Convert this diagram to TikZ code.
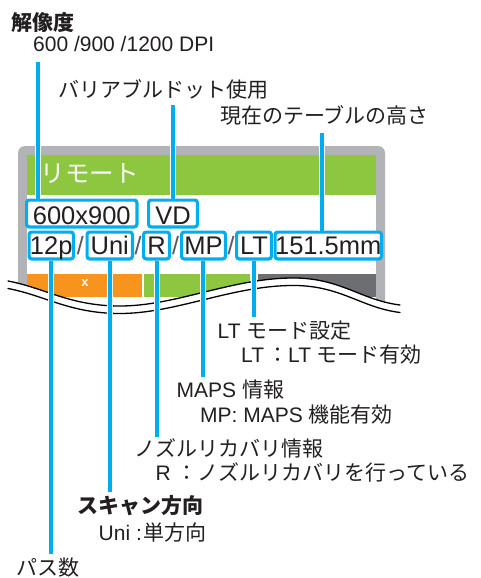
\documentclass[tikz,border=0pt]{standalone}
\usepackage{fontspec}
\setmainfont{Liberation Sans}
\newfontfamily\jp{Noto Sans CJK JP}
\definecolor{cyanb}{HTML}{00AEEF}
\definecolor{scrgreen}{HTML}{8DC63F}
\definecolor{scrorange}{HTML}{F7941D}
\definecolor{scrdark}{HTML}{6D6E71}
\definecolor{framegray}{HTML}{B1B3B6}
\definecolor{ink}{HTML}{231F20}
\definecolor{slashgray}{HTML}{58595B}
\begin{document}
\begin{tikzpicture}[x=1pt,y=-1pt,
  lbl/.style={anchor=base west, inner sep=0pt, text=ink, font=\fontsize{21}{25}\selectfont},
  bx/.style={draw=cyanb, line width=3.2pt, rounded corners=2.5pt, fill=white, inner sep=0pt,
     text=ink, font=\fontsize{25.5}{30}\selectfont, minimum height=26.8pt, text depth=0pt},
  rowa/.style={bx, text height=21pt},
  rowb/.style={bx, text height=18.4pt},
  slash/.style={anchor=base, inner sep=0pt, text=slashgray, font=\fontsize{25}{30}\selectfont},
  lead/.style={draw=cyanb, line width=3.6pt, preaction={draw=white, line width=5.6pt}},
  wave/.style={draw=black, line width=1.3pt, line cap=round}]
\useasboundingbox (0,0) rectangle (480,578);

% screen, cut by the wavy break
\begin{scope}
\clip (8,281) .. controls (45,288) and (70,306) .. (120,306) .. controls (175,306) and (230,279) .. (290,278) .. controls (340,277) and (360,300) .. (400,305) -- (400,140) -- (8,140) -- cycle;
\fill[framegray, rounded corners=7pt] (18,146) rectangle (385,340);
\fill[white] (26.5,155) rectangle (376,340);
\fill[scrgreen] (26.5,155) rectangle (376,195);
\fill[scrorange] (26.5,274) rectangle (142,297);
\fill[scrgreen] (143.5,274) rectangle (250,297);
\fill[scrdark] (258,274) rectangle (376,297);
\node[anchor=base west, inner sep=0pt, text=white, font=\fontsize{24.5}{28}\selectfont\jp] (remote) at (40.5,182) {リモート};
\node[inner sep=0pt, text=white, font=\fontsize{13}{15}\selectfont\bfseries] (xmark) at (85,283.5) {x};
\end{scope}

% wavy break
\draw[wave] (8,281) .. controls (45,288) and (70,306) .. (120,306) .. controls (175,306) and (230,279) .. (290,278) .. controls (340,277) and (360,300) .. (400,305);
\draw[wave] (8,288.5) .. controls (45,295.5) and (70,313.5) .. (120,313.5) .. controls (175,313.5) and (230,286.5) .. (290,285.5) .. controls (340,284.5) and (360,307.5) .. (400,312.5);

% labels
\node[lbl, font=\fontsize{21}{25}\selectfont\jp\bfseries] (tres) at (11,30.5) {解像度};
\node[lbl] (tdpi) at (33,52) {600 /900 /1200 DPI};
\node[lbl] (tvd) at (58.5,97.5) {\jp バリアブルドット使用};
\node[lbl] (ttab) at (220,123.5) {\jp 現在のテーブルの高さ};
\node[lbl] (tlt) at (217.5,338) {LT \jp モード設定};
\node[lbl] (tltb) at (241,362) {LT\hspace{3pt}{\jp ：}LT \jp モード有効};
\node[lbl] (tmaps) at (176.5,397) {MAPS \jp 情報};
\node[lbl] (tmapsb) at (200,422) {MP: MAPS \jp 機能有効};
\node[lbl] (tnoz) at (134,456.5) {\jp ノズルリカバリ情報};
\node[lbl] (tnozb) at (155.5,480) {R\hspace{6pt}\jp ：ノズルリカバリを行っている};
\node[lbl, font=\fontsize{21}{25}\selectfont\jp\bfseries] (tscan) at (77,513.5) {スキャン方向};
\node[lbl] (tscanb) at (98.5,540) {Uni :\hspace{2pt}\jp 単方向};
\node[lbl] (tpass) at (16,575.5) {\jp パス数};

% connector ends
\coordinate (c600) at (38,62);
\coordinate (cvd) at (173,105);
\coordinate (cmm) at (322,133);
\coordinate (e12) at (51,554);
\coordinate (euni) at (110,492);
\coordinate (er) at (157,437);
\coordinate (emp) at (203,377);
\coordinate (elt) at (254,317);

% boxes
\node[rowa, minimum width=110.3pt] (b600) at (81.75,213.5) {600x900};
\node[rowa, minimum width=48.8pt] (bvd) at (173,213.5) {VD};
\node[rowb, minimum width=44.3pt] (b12) at (51.25,245.5) {12p};
\node[rowb, minimum width=45.3pt] (buni) at (109.75,245.5) {Uni};
\node[rowb, minimum width=25.8pt] (br) at (156.5,245.5) {R};
\node[rowb, minimum width=43.8pt] (bmp) at (203.5,245.5) {MP};
\node[rowb, minimum width=34.8pt] (blt) at (254,245.5) {LT};
\node[rowb, minimum width=104.3pt] (bmm) at (328.25,245.5) {151.5mm};

\node[slash] (s1) at (80.3,254.5) {/};
\node[slash] (s2) at (138,254.5) {/};
\node[slash] (s3) at (175.5,254.5) {/};
\node[slash] (s4) at (231,254.5) {/};

% leader lines
\draw[lead] (c600) -- (c600 |- b600.north);
\draw[lead] (cvd) -- (cvd |- bvd.north);
\draw[lead] (cmm) -- (cmm |- bmm.north);
\draw[lead] (e12 |- b12.south) -- (e12);
\draw[lead] (euni |- buni.south) -- (euni);
\draw[lead] (er |- br.south) -- (er);
\draw[lead] (emp |- bmp.south) -- (emp);
\draw[lead] (elt |- blt.south) -- (elt);
\end{tikzpicture}
\end{document}
